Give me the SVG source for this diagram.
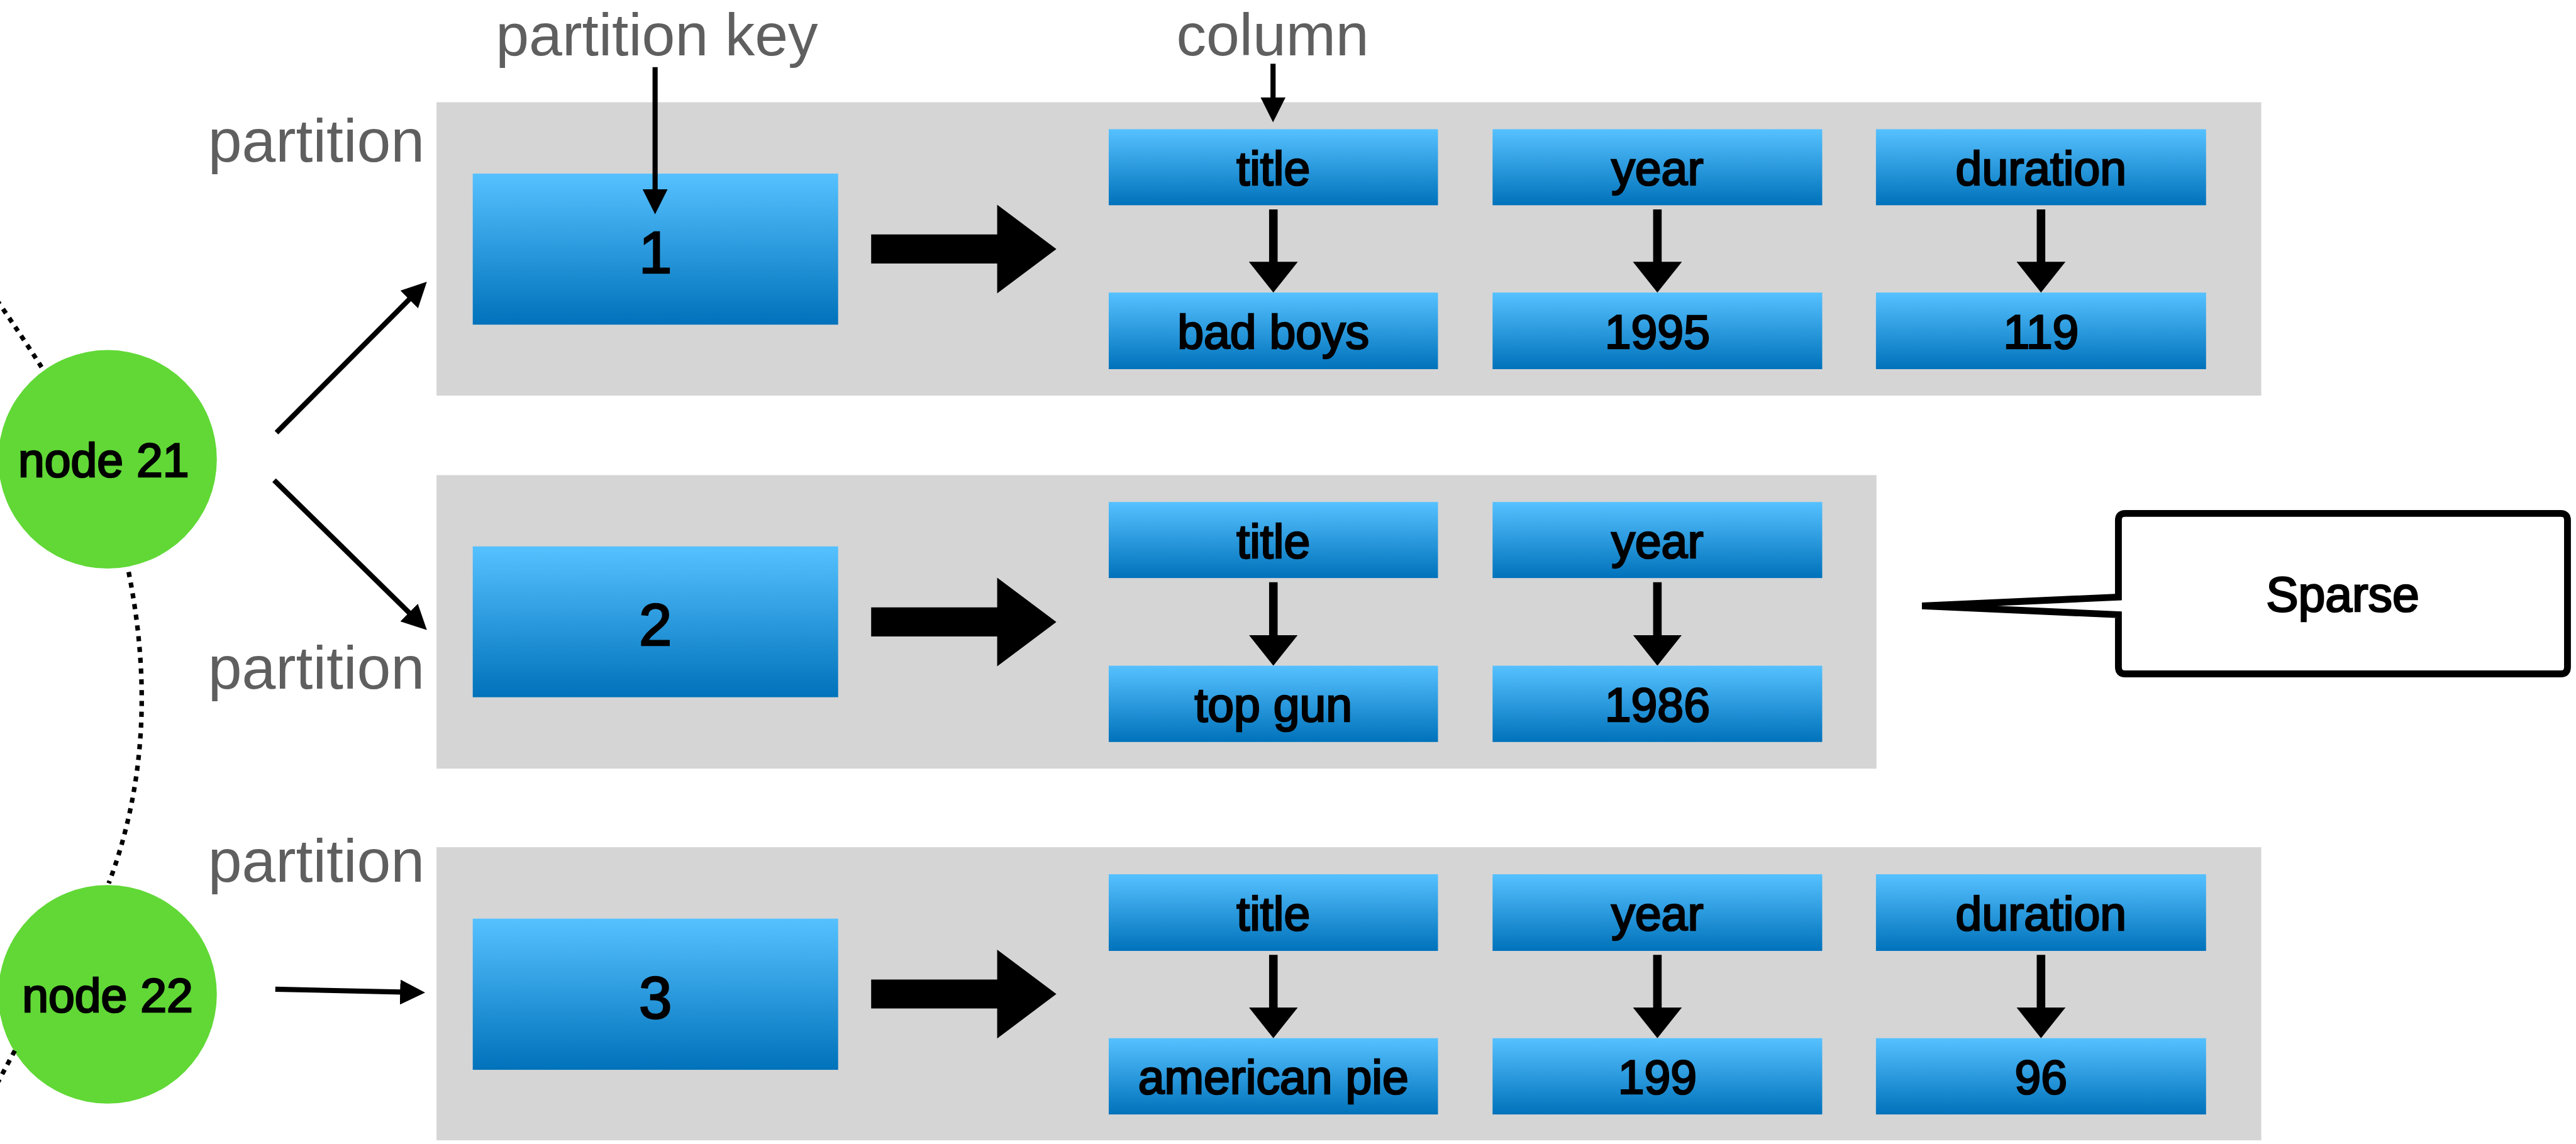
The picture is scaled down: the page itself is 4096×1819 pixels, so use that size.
<svg xmlns="http://www.w3.org/2000/svg" width="4096" height="1819" viewBox="0 0 4096 1819">
<defs>
<style>
.panel{fill:#d5d5d5}
.box{fill:url(#blue)}
.lbl{font-family:"Liberation Sans",Arial,sans-serif;font-size:83px;text-anchor:middle;fill:#000;stroke:#000;stroke-width:3px}
.key{font-size:104px}
.gray{font-family:"Liberation Sans",Arial,sans-serif;font-size:107px;fill:#5f5f5f}
.top{font-size:105px}
.conn{stroke:#000;stroke-width:9;fill:none}
.col{stroke:#000;stroke-width:15;fill:none}
.dot{stroke:#000;stroke-width:8;fill:none;stroke-dasharray:9 10}
.node{fill:#61d836}
</style>
<linearGradient id="blue" x1="0" y1="0" x2="0" y2="1">
<stop offset="0" stop-color="#56c1ff"/>
<stop offset="1" stop-color="#0072bb"/>
</linearGradient>
<marker id="ah" viewBox="0 0 44 44" refX="14" refY="22" markerWidth="44" markerHeight="44" markerUnits="userSpaceOnUse" orient="auto"><path d="M0,0 L44,22 L0,44 Z" fill="#000"/></marker>
<marker id="ahb" viewBox="0 0 54 86" refX="14" refY="43" markerWidth="54" markerHeight="86" markerUnits="userSpaceOnUse" orient="auto"><path d="M0,0 L54,43 L0,86 Z" fill="#000"/></marker>
<path id="block" d="M1530.6 52.4 H1752 V0 L1856 78 L1752 156 V103.4 H1530.6 Z" fill="#000"/>
</defs>
<rect width="4096" height="1819" fill="#fff"/>
<g transform="scale(0.905)">
<g id="labels">
<text class="gray top" x="1154" y="97" text-anchor="middle">partition key</text>
<text class="gray top" x="2236" y="97" text-anchor="middle">column</text>
<text class="gray" x="746" y="284" text-anchor="end">partition</text>
<text class="gray" x="746" y="1210" text-anchor="end">partition</text>
<text class="gray" x="746" y="1549" text-anchor="end">partition</text>
</g>
<g id="partition1">
<rect class="panel" x="767" y="179.6" width="3206" height="515.4"/>
<g id="key1"><rect class="box" x="830.6" y="305" width="642" height="265.4"/><text class="lbl key" x="1151.5" y="479.6">1</text></g>
<use href="#block" y="359.6"/>
<g id="col1-title"><rect class="box" x="1948" y="227" width="578.5" height="133.6"/><text class="lbl" x="2237.25" y="325">title</text></g>
<g id="col1-year"><rect class="box" x="2622.4" y="227" width="579.2" height="133.6"/><text class="lbl" x="2912" y="325">year</text></g>
<g id="col1-duration"><rect class="box" x="3296" y="227" width="580" height="133.6"/><text class="lbl" x="3586" y="325">duration</text></g>
<g id="val1-title"><rect class="box" x="1948" y="514" width="578.5" height="134.6"/><text class="lbl" x="2237.25" y="612">bad boys</text></g>
<g id="val1-year"><rect class="box" x="2622.4" y="514" width="579.2" height="134.6"/><text class="lbl" x="2912" y="612">1995</text></g>
<g id="val1-duration"><rect class="box" x="3296" y="514" width="580" height="134.6"/><text class="lbl" x="3586" y="612">119</text></g>
</g>
<g id="partition2">
<rect class="panel" x="767" y="834.8" width="2530" height="515.6"/>
<g id="key2"><rect class="box" x="830.6" y="960" width="642" height="265"/><text class="lbl key" x="1151.5" y="1134">2</text></g>
<use href="#block" y="1014.8"/>
<g id="col2-title"><rect class="box" x="1948" y="882" width="578.5" height="133.6"/><text class="lbl" x="2237.25" y="980">title</text></g>
<g id="col2-year"><rect class="box" x="2622.4" y="882" width="579.2" height="133.6"/><text class="lbl" x="2912" y="980">year</text></g>
<g id="val2-title"><rect class="box" x="1948" y="1169.6" width="578.5" height="134"/><text class="lbl" x="2237.25" y="1267.6">top gun</text></g>
<g id="val2-year"><rect class="box" x="2622.4" y="1169.6" width="579.2" height="134"/><text class="lbl" x="2912" y="1267.6">1986</text></g>
</g>
<g id="partition3">
<rect class="panel" x="767" y="1488.5" width="3206" height="515"/>
<g id="key3"><rect class="box" x="830.6" y="1614" width="642" height="265.6"/><text class="lbl key" x="1151.5" y="1788.5">3</text></g>
<use href="#block" y="1668.5"/>
<g id="col3-title"><rect class="box" x="1948" y="1536" width="578.5" height="134.7"/><text class="lbl" x="2237.25" y="1634">title</text></g>
<g id="col3-year"><rect class="box" x="2622.4" y="1536" width="579.2" height="134.7"/><text class="lbl" x="2912" y="1634">year</text></g>
<g id="col3-duration"><rect class="box" x="3296" y="1536" width="580" height="134.7"/><text class="lbl" x="3586" y="1634">duration</text></g>
<g id="val3-title"><rect class="box" x="1948" y="1824" width="578.5" height="134"/><text class="lbl" x="2237.25" y="1922">american pie</text></g>
<g id="val3-year"><rect class="box" x="2622.4" y="1824" width="579.2" height="134"/><text class="lbl" x="2912" y="1922">199</text></g>
<g id="val3-duration"><rect class="box" x="3296" y="1824" width="580" height="134"/><text class="lbl" x="3586" y="1922">96</text></g>
</g>
<g id="node21"><circle class="node" cx="189" cy="807" r="192"/><text class="lbl" x="182" y="838">node 21</text></g>
<g id="node22"><circle class="node" cx="189" cy="1747" r="192"/><text class="lbl" x="189" y="1778">node 22</text></g>
<g id="sparse-callout">
<path d="M3722 1049 V914 Q3722 902 3734 902 H4499 Q4511 902 4511 914 V1172 Q4511 1184 4499 1184 H3734 Q3722 1184 3722 1172 V1080 L3377 1064.5 Z" fill="#fff" stroke="#000" stroke-width="12"/>
<text class="lbl" x="4116" y="1073.6" style="font-size:85px">Sparse</text>
</g>
<g id="connectors">
<path class="dot" d="M73 645 Q38 590 -5 528"/>
<path class="dot" d="M226 1005 Q285.5 1301.5 191 1552"/>
<path class="dot" d="M26 1846 Q12 1872 -4 1902"/>
<line class="conn" x1="485.7" y1="760" x2="728.8" y2="516.2" marker-end="url(#ah)"/>
<line class="conn" x1="481.6" y1="843.7" x2="728.6" y2="1086" marker-end="url(#ah)"/>
<line class="conn" x1="483.7" y1="1738" x2="717" y2="1743.3" marker-end="url(#ah)"/>
<line class="conn" x1="1151" y1="118" x2="1151" y2="346.5" marker-end="url(#ah)"/>
<line class="conn" x1="2236.7" y1="112" x2="2236.7" y2="185" marker-end="url(#ah)"/>
<line class="col" x1="2237.25" y1="368" x2="2237.25" y2="474" marker-end="url(#ahb)"/>
<line class="col" x1="2912" y1="368" x2="2912" y2="474" marker-end="url(#ahb)"/>
<line class="col" x1="3586" y1="368" x2="3586" y2="474" marker-end="url(#ahb)"/>
<line class="col" x1="2237.25" y1="1023" x2="2237.25" y2="1129.6" marker-end="url(#ahb)"/>
<line class="col" x1="2912" y1="1023" x2="2912" y2="1129.6" marker-end="url(#ahb)"/>
<line class="col" x1="2237.25" y1="1677.5" x2="2237.25" y2="1784" marker-end="url(#ahb)"/>
<line class="col" x1="2912" y1="1677.5" x2="2912" y2="1784" marker-end="url(#ahb)"/>
<line class="col" x1="3586" y1="1677.5" x2="3586" y2="1784" marker-end="url(#ahb)"/>
</g>
</g>
</svg>
